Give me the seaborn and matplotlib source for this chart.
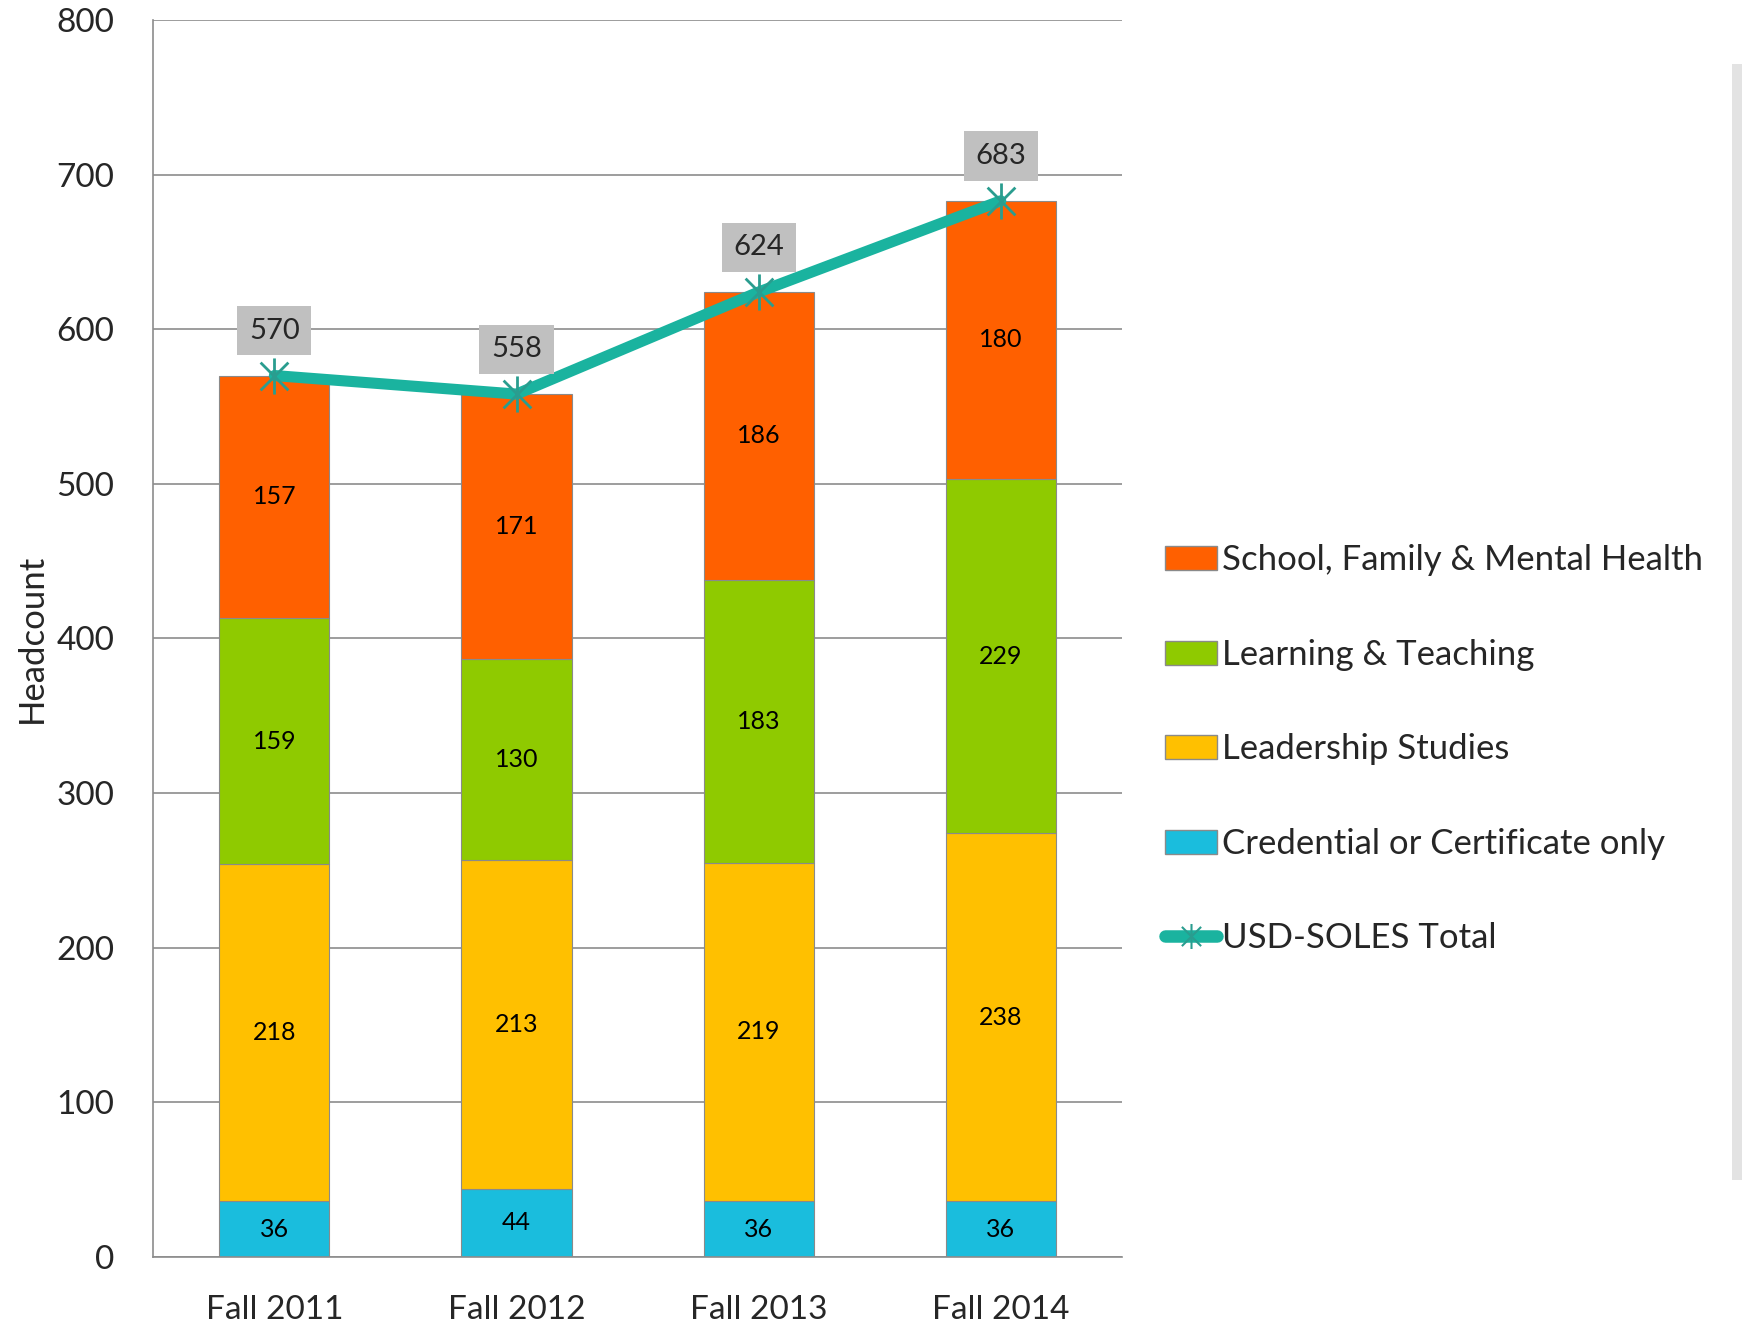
import seaborn as sns
import matplotlib.pyplot as plt
import matplotlib.path as mpath
import numpy as np

# -------------------------------
# Data
# -------------------------------
terms = ["Fall 2011", "Fall 2012", "Fall 2013", "Fall 2014"]
credential = [36, 44, 36, 36]
leadership = [218, 213, 219, 238]
learning = [159, 130, 183, 229]
school_family = [157, 171, 186, 180]
totals = [570, 558, 624, 683]

series_names = ["Credential or Certificate only", "Leadership Studies",
                "Learning & Teaching", "School, Family & Mental Health"]
series_colors = ["#1ABDDD", "#FFC000", "#8FCA00", "#FF6000"]
line_color = "#1AB39F"

# -------------------------------
# Style
# -------------------------------
sns.set_style("white")
plt.rcParams["font.family"] = ["Lato", "DejaVu Sans"]

fig = plt.figure(figsize=(17.42, 13.24), dpi=100)
ax = fig.add_axes([0.088, 0.0506, 0.556, 0.9344])

# stacked bars
bottom = np.zeros(len(terms))
bar_handles = []
for name, vals, col in zip(series_names, [credential, leadership, learning, school_family], series_colors):
    sns.barplot(x=terms, y=vals, bottom=bottom, color=col, saturation=1, width=0.455,
                edgecolor="#8a8a8a", linewidth=0.8, ax=ax, zorder=2)
    for i, v in enumerate(vals):
        ax.text(i, bottom[i] + v / 2, str(v), ha="center", va="center",
                fontsize=18, color="black", zorder=5)
    bar_handles.append(plt.Rectangle((0, 0), 1, 1, facecolor=col, edgecolor="#8a8a8a", linewidth=1))
    bottom = bottom + np.array(vals)

# total line with asterisk markers
star = mpath.Path(
    [(-1, -1), (1, 1), (-1, 1), (1, -1), (0, -1.3), (0, 1.3)],
    [mpath.Path.MOVETO, mpath.Path.LINETO, mpath.Path.MOVETO, mpath.Path.LINETO,
     mpath.Path.MOVETO, mpath.Path.LINETO])
sns.lineplot(x=np.arange(len(terms)), y=totals, color=line_color, linewidth=8,
             marker=star, markersize=26, markeredgecolor="#2A9D8F",
             markeredgewidth=2, ax=ax, zorder=4)
for i, t in enumerate(totals):
    ax.text(i, t + 29, str(t), ha="center", va="center", fontsize=21,
            bbox=dict(boxstyle="square,pad=0.4", facecolor="#C0C0C0", edgecolor="none"),
            zorder=6)

# axes
ax.set_xlim(-0.5, 3.5)
ax.set_ylim(0, 800)
ax.set_yticks(range(0, 801, 100))
ax.yaxis.grid(True, color="#8c8c8c", linewidth=1.2)
ax.set_axisbelow(True)
for s in ["top", "right"]:
    ax.spines[s].set_visible(False)
ax.spines["left"].set_color("#8c8c8c")
ax.spines["bottom"].set_color("#8c8c8c")
ax.spines["left"].set_linewidth(1.2)
ax.spines["bottom"].set_linewidth(1.2)
ax.set_xticks(np.arange(len(terms)))
ax.set_xticklabels(terms)
ax.set_xticks(np.arange(-0.5, 4, 1), minor=True)
ax.tick_params(axis="x", which="major", length=0, labelsize=24, pad=27)
ax.tick_params(axis="x", which="minor", length=10, color="#8c8c8c", width=1.2, direction="out")
ax.tick_params(axis="y", length=10, color="#8c8c8c", width=1.2, direction="out",
               labelsize=24, pad=18)
ax.set_xlabel("")
ax.set_ylabel("Headcount", fontsize=25, labelpad=6)

# legend
line_handle = plt.Line2D([0], [0], color=line_color, linewidth=9, solid_capstyle="round",
                         marker=star, markersize=18, markeredgecolor="#2A9D8F", markeredgewidth=1.5)
handles = bar_handles[::-1] + [line_handle]
labels = series_names[::-1] + ["USD-SOLES Total"]
fig.legend(handles, labels, loc="center left", bbox_to_anchor=(0.651, 0.434),
           frameon=False, fontsize=25, handlelength=1.5, handleheight=0.7,
           handletextpad=0.12, labelspacing=1.8)

# gray strip on right edge
fig.patches.append(plt.Rectangle((0.9943, 0.109), 0.006, 0.843, transform=fig.transFigure,
                                 facecolor="#E3E3E3", edgecolor="none"))

plt.savefig("out.png", dpi=100)
plt.close()
